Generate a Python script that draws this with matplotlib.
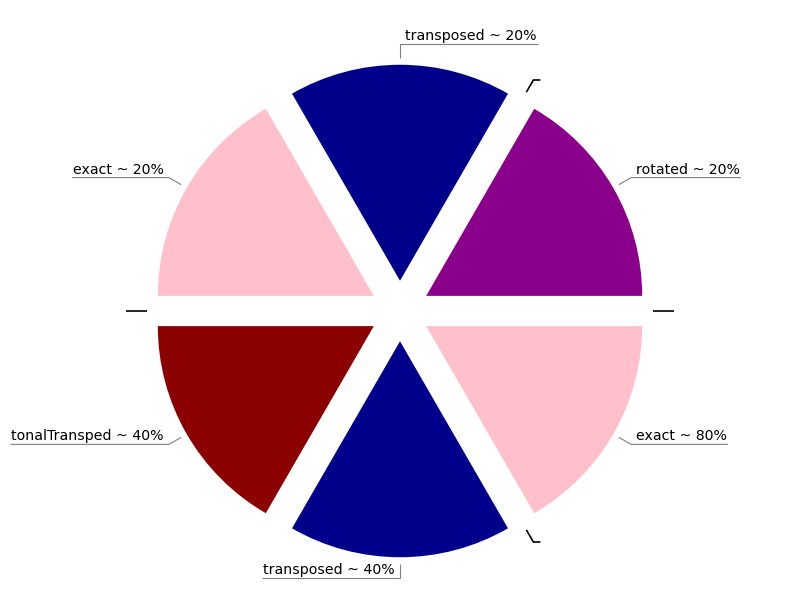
import matplotlib
matplotlib.use('Agg')
import matplotlib.pyplot as plt
import numpy as np

# wedges in drawing order (counter-clockwise from 0 deg), zero-size ones have no label
labels = ['', 'rotated ~ 20%', '', 'transposed ~ 20%', 'exact ~ 20%', '',
          'tonalTransped ~ 40%', 'transposed ~ 40%', '', 'exact ~ 80%']
sizes = [0, 1, 0, 1, 1, 0, 1, 1, 0, 1]
colors = ['white', 'darkmagenta', 'white', 'darkblue', 'pink', 'white',
          'darkred', 'darkblue', 'white', 'pink']

fig = plt.figure(figsize=(8, 6), dpi=100)
ax = fig.add_axes([0, 0, 1, 1])

explode = [0.14] * len(sizes)
wedges, _ = ax.pie(sizes, colors=colors, explode=explode, startangle=0,
                   counterclock=True, radius=1)

px = 1 / 216.0  # one pixel in data units
ax.set_aspect('equal')
ax.set_xlim(-400 * px, 400 * px)
ax.set_ylim(-289 * px, 311 * px)
ax.axis('off')

# angles of wedge bisectors
total = float(sum(sizes))
cum = np.cumsum([0] + sizes)
mids = [np.deg2rad((cum[i] + cum[i + 1]) / 2 / total * 360) for i in range(len(sizes))]

texts = []
for lab, a in zip(labels, mids):
    c, s = np.cos(a), np.sin(a)
    side = 1 if np.sign(c) >= 0 else -1
    p1 = (1.17 * c, 1.17 * s)
    p2 = (1.235 * c, 1.235 * s)
    t = ax.annotate(lab, xy=p2, xytext=(5 * side, 4), textcoords='offset pixels',
                    ha='left' if side > 0 else 'right', va='baseline', fontsize=10.2)
    texts.append((t, lab, p1, p2, side))

fig.canvas.draw()
inv = ax.transData.inverted()
for t, lab, p1, p2, side in texts:
    if lab:
        bb = t.get_window_extent()
        xe = bb.x1 + 1 if side > 0 else bb.x0 - 1
        xend = inv.transform((xe, 0))[0]
        col, lw = 'gray', 0.8
    else:
        xend = p2[0] + side * 7 * px
        col, lw = 'black', 1.2
    ax.plot([p1[0], p2[0], xend], [p1[1], p2[1], p2[1]], color=col, lw=lw,
            solid_capstyle='butt')

fig.savefig('out.png', dpi=100)
